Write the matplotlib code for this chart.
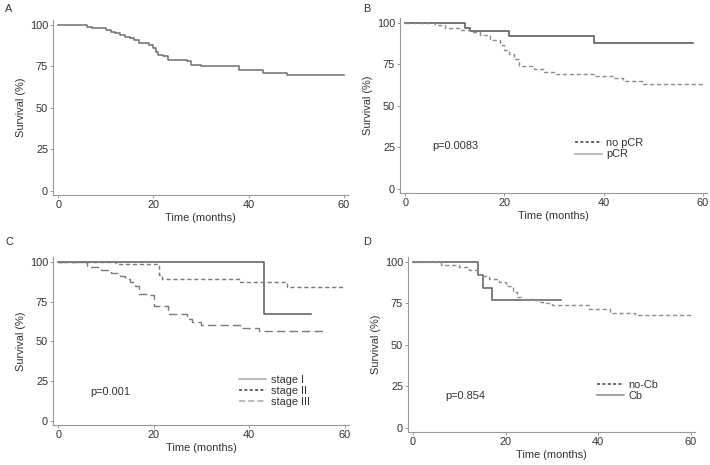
import matplotlib
matplotlib.use("Agg")
import matplotlib.pyplot as plt
from matplotlib.lines import Line2D

plt.rcParams['font.family'] = ['Liberation Sans', 'DejaVu Sans']

# Panel A: overall survival
a_t = [0, 6, 7, 10, 11, 12, 13, 14, 15, 16, 17, 19, 20, 20.5, 21, 22, 23, 27, 28, 30, 38, 43, 48, 60]
a_s = [100, 99, 98, 97, 96, 95, 94, 93, 92, 91, 89, 88, 86, 84, 82, 81, 79, 78, 76, 75, 73, 71, 70, 70]

# Panel B: pCR vs no pCR
b_no_t = [0, 6, 8, 11, 13, 15, 17, 19, 20, 21, 22, 23, 26, 28, 30, 38, 42, 44, 48, 60]
b_no_s = [100, 99, 97, 96, 94.5, 93, 90, 87, 84, 81, 78, 74, 72.5, 70.5, 69, 68, 67, 65, 63, 63]
b_pcr_t = [0, 12, 13, 21, 38, 58]
b_pcr_s = [100, 97, 95, 92, 88, 88]

# Panel C: stages
c1_t = [0, 43, 53]
c1_s = [100, 67, 67]
c2_t = [0, 12, 21, 21.7, 38, 48, 60]
c2_s = [100, 98.5, 92, 89, 87, 84, 84]
c3_t = [0, 6, 9, 11, 13, 14, 15, 16, 17, 19, 20, 23, 27, 28, 30, 38, 42, 56]
c3_s = [100, 97, 95, 93, 91, 89, 87, 85, 80, 79, 72, 67, 64, 62, 60.5, 58.5, 56.5, 56.5]

# Panel D: Cb vs no-Cb
d_no_t = [0, 6, 10, 12, 14, 15, 16.5, 18.5, 20, 21.5, 22.5, 23.3, 26, 27, 28, 30, 38, 42.5, 48, 60]
d_no_s = [100, 98.2, 97, 95.2, 93, 91.5, 90, 88, 85.5, 82, 79, 77.5, 77, 76, 75, 74, 71.5, 69.5, 68, 68]
d_cb_t = [0, 14, 15, 17, 32]
d_cb_s = [100, 92.4, 84.5, 77, 77]

W, H = 710, 465
fig = plt.figure(figsize=(W / 100, H / 100), dpi=100)

FS = 7.9
axis_col = '#9a9a9a'
text_col = '#333333'


def make_ax(left, top, right, bottom):
    ax = fig.add_axes([left / W, 1 - bottom / H, (right - left) / W, (bottom - top) / H])
    ax.set_xlim(-1.1, 60.9)
    ax.set_ylim(-2.5, 103)
    for s in ['top', 'right']:
        ax.spines[s].set_visible(False)
    for s in ['left', 'bottom']:
        ax.spines[s].set_color(axis_col)
        ax.spines[s].set_linewidth(0.8)
    ax.set_xticks([0, 20, 40, 60])
    ax.set_yticks([0, 25, 50, 75, 100])
    ax.tick_params(direction='out', length=2.5, width=0.7, color=axis_col,
                   labelsize=FS, labelcolor=text_col, pad=1)
    ax.set_xlabel('Time (months)', fontsize=FS, color=text_col, labelpad=2.5)
    ax.set_ylabel('Survival (%)', fontsize=FS, color=text_col, labelpad=2.5)
    return ax


def add_legend(ax, handles, labels, x, y):
    ax.legend(handles, labels, loc='upper left', bbox_to_anchor=(x, y),
              frameon=False, fontsize=FS, handlelength=2.45,
              handletextpad=0.4, labelspacing=0.12, borderpad=0,
              labelcolor=text_col)


# A
ax = make_ax(53, 20, 348, 195)
ax.step(a_t, a_s, where='post', color='#6e6e6e', lw=1.1)
fig.text(5 / W, 1 - 12 / H, 'A', fontsize=FS, color=text_col)

# B
ax = make_ax(400, 18, 707, 193)
ax.step(b_pcr_t, b_pcr_s, where='post', color='#5e5e5e', lw=1.2)
ax.step(b_no_t, b_no_s, where='post', color='#8a8a8a', lw=1.0, linestyle=(0, (3, 2)))
ax.text(0.105, 0.27, 'p=0.0083', transform=ax.transAxes, fontsize=FS, color=text_col, va='center')
add_legend(ax,
           [Line2D([], [], color='#404040', lw=1.1, linestyle=(0, (2, 1.5))),
            Line2D([], [], color='#a8a8a8', lw=1.1)],
           ['no pCR', 'pCR'], 0.552, 0.345)
fig.text(363 / W, 1 - 12 / H, 'B', fontsize=FS, color=text_col)

# C
ax = make_ax(53, 257, 349, 425)
ax.step(c1_t, c1_s, where='post', color='#5a5a5a', lw=1.1)
ax.step(c2_t, c2_s, where='post', color='#7a7a7a', lw=1.0, linestyle=(0, (3, 2)))
ax.step(c3_t, c3_s, where='post', color='#7a7a7a', lw=1.0, linestyle=(0, (6, 3)))
ax.text(0.125, 0.195, 'p=0.001', transform=ax.transAxes, fontsize=FS, color=text_col, va='center')
add_legend(ax,
           [Line2D([], [], color='#a8a8a8', lw=1.1),
            Line2D([], [], color='#404040', lw=1.1, linestyle=(0, (2, 1.5))),
            Line2D([], [], color='#a8a8a8', lw=1.1, linestyle=(0, (4, 2)))],
           ['stage I', 'stage II', 'stage III'], 0.611, 0.333)
fig.text(5 / W, 1 - 245 / H, 'C', fontsize=FS, color=text_col)

# D
ax = make_ax(408, 257, 695, 432)
ax.step(d_cb_t, d_cb_s, where='post', color='#6a6a6a', lw=1.2)
ax.step(d_no_t, d_no_s, where='post', color='#8e8e8e', lw=1.0, linestyle=(0, (3, 2)))
ax.text(0.13, 0.205, 'p=0.854', transform=ax.transAxes, fontsize=FS, color=text_col, va='center')
add_legend(ax,
           [Line2D([], [], color='#404040', lw=1.1, linestyle=(0, (2, 1.5))),
            Line2D([], [], color='#8a8a8a', lw=1.1)],
           ['no-Cb', 'Cb'], 0.639, 0.33)
fig.text(363 / W, 1 - 245 / H, 'D', fontsize=FS, color=text_col)

fig.savefig('out.png', dpi=100, facecolor='white')
